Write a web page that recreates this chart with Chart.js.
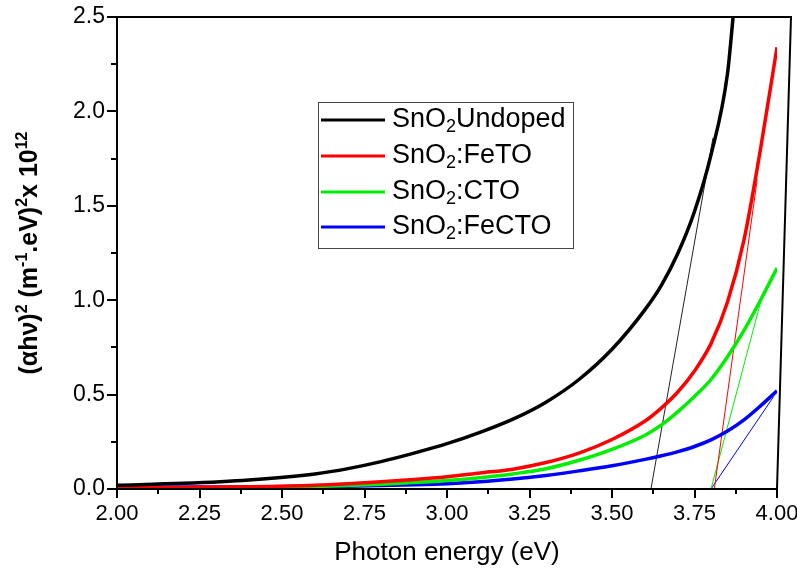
<!DOCTYPE html>
<html>
<head>
<meta charset="utf-8">
<script src="https://cdn.jsdelivr.net/npm/chart.js@4.4.1/dist/chart.umd.min.js"></script>
<style>
  html, body { margin: 0; padding: 0; background: #fff; }
  #wrap { width: 797px; height: 568px; position: relative; }
</style>
</head>
<body>
<div id="wrap"><canvas id="tauc"></canvas></div>
<script>
/* Tauc plot: (ahv)^2 vs photon energy for four SnO2 films, with band-gap tangent lines. */
var energy = [2.0, 2.2, 2.4, 2.6, 2.7, 2.8, 2.9, 3.0, 3.1, 3.2, 3.3, 3.4, 3.5, 3.6, 3.65, 3.7, 3.75, 3.8, 3.85, 3.9, 3.95, 4.0];
var energyUndoped = [2.0, 2.2, 2.4, 2.6, 2.7, 2.8, 2.9, 3.0, 3.1, 3.2, 3.3, 3.4, 3.5, 3.6, 3.65, 3.7, 3.75, 3.8, 3.85, 3.867];

var undoped = [0.02, 0.03, 0.048, 0.08, 0.108, 0.145, 0.19, 0.24, 0.3, 0.37, 0.46, 0.58, 0.74, 0.95, 1.08, 1.25, 1.47, 1.77, 2.2, 2.5];
var feTO = [0.005, 0.008, 0.012, 0.02, 0.028, 0.038, 0.05, 0.065, 0.085, 0.105, 0.14, 0.19, 0.262, 0.36, 0.43, 0.515, 0.625, 0.77, 0.99, 1.32, 1.8, 2.34];
var cTO = [0.003, 0.005, 0.008, 0.013, 0.018, 0.025, 0.034, 0.045, 0.06, 0.08, 0.107, 0.152, 0.21, 0.285, 0.34, 0.41, 0.49, 0.58, 0.7, 0.84, 1.0, 1.17];
var feCTO = [0.008, 0.01, 0.011, 0.013, 0.015, 0.018, 0.022, 0.028, 0.038, 0.053, 0.072, 0.096, 0.123, 0.157, 0.176, 0.198, 0.225, 0.26, 0.307, 0.366, 0.44, 0.52];

// tangent (band-gap) fits: [x0, x1], [y0, y1]
var fitUndopedX = [3.618, 3.806], fitUndopedY = [0, 1.86];
var fitFeTOX = [3.81, 3.94], fitFeTOY = [0, 1.64];
var fitCTOX = [3.80, 3.958], fitCTOY = [0, 1.04];
var fitFeCTOX = [3.80, 3.99], fitFeCTOY = [0, 0.49];

var seriesNames = ["Undoped", ":FeTO", ":CTO", ":FeCTO"];
var seriesColors = ["#000000", "#ff0000", "#00ee00", "#0000ff"];

var xTicksMin = 2.0, xTicksMax = 4.0, xStep = 0.25;
var yTicksMin = 0, yTicksMax = 2.5, yStep = 0.5;

function pts(xs, ys) {
  return ys.map(function (v, i) { return { x: xs[i], y: v }; });
}

var FONT = "'Liberation Sans', Arial, sans-serif";

function curve(xs, ys, color) {
  return {
    data: pts(xs, ys),
    borderColor: color,
    borderWidth: 3.5,
    pointRadius: 0,
    fill: false,
    cubicInterpolationMode: "monotone",
  };
}

function fitLine(xs, ys, color) {
  return {
    data: pts(xs, ys),
    borderColor: color,
    borderWidth: 1,
    pointRadius: 0,
    fill: false,
  };
}

var framePlugin = {
  id: "taucFrame",
  afterDraw: function (chart) {
    var ctx = chart.ctx;
    var a = chart.chartArea;
    var xs = chart.scales.x, ys = chart.scales.y;
    ctx.save();
    ctx.strokeStyle = "#000";
    ctx.lineWidth = 2;
    ctx.lineCap = "square";
    ctx.beginPath();
    ctx.moveTo(a.left, a.top);
    ctx.lineTo(a.left, a.bottom);
    ctx.lineTo(a.right, a.bottom);
    ctx.moveTo(a.left, a.top);
    ctx.lineTo(a.right + 14, a.top);
    ctx.lineTo(a.right, a.bottom);
    ctx.stroke();

    // tick marks, outward, majors + minors
    ctx.lineWidth = 2;
    ctx.beginPath();
    var v, px, i;
    for (i = 0; i <= Math.round((xTicksMax - xTicksMin) / (xStep / 2)); i++) {
      v = xTicksMin + i * xStep / 2;
      px = Math.round(xs.getPixelForValue(v));
      ctx.moveTo(px, a.bottom);
      ctx.lineTo(px, a.bottom + (i % 2 === 0 ? 8 : 4));
    }
    for (i = 0; i <= Math.round((yTicksMax - yTicksMin) / (yStep / 2)); i++) {
      v = yTicksMin + i * yStep / 2;
      px = Math.round(ys.getPixelForValue(v));
      ctx.moveTo(a.left, px);
      ctx.lineTo(a.left - (i % 2 === 0 ? 9 : 5), px);
    }
    ctx.stroke();

    // x title
    ctx.fillStyle = "#000";
    ctx.font = "26px " + FONT;
    ctx.textAlign = "center";
    ctx.textBaseline = "middle";
    ctx.fillText("Photon energy (eV)", (a.left + a.right) / 2, 553);

    // y title with superscripts
    var size = 25;
    var parts = [
      ["(\u03b1h\u03bd)", 0], ["2", 1], [" (m", 0], ["-1", 1], [".eV)", 0], ["2", 1], ["x 10", 0], ["12", 1],
    ];
    function fontFor(sup) {
      return "bold " + (sup ? Math.round(size * 0.62) : size) + "px " + FONT;
    }
    var total = 0;
    parts.forEach(function (p) {
      ctx.font = fontFor(p[1]);
      total += ctx.measureText(p[0]).width;
    });
    ctx.translate(37, 253);
    ctx.rotate(-Math.PI / 2);
    ctx.textAlign = "left";
    ctx.textBaseline = "alphabetic";
    var cx = -total / 2;
    parts.forEach(function (p) {
      ctx.font = fontFor(p[1]);
      ctx.fillText(p[0], cx, p[1] ? -size * 0.42 : 0);
      cx += ctx.measureText(p[0]).width;
    });
    ctx.restore();

    // legend box
    ctx.save();
    ctx.strokeStyle = "#444";
    ctx.lineWidth = 1;
    ctx.strokeRect(318.5, 102.5, 255, 146);
    var rows = [120, 156, 192, 227];
    seriesNames.forEach(function (name, k) {
      var y = rows[k];
      ctx.strokeStyle = seriesColors[k];
      ctx.lineWidth = 3;
      ctx.beginPath();
      ctx.moveTo(321, y);
      ctx.lineTo(385, y);
      ctx.stroke();
      ctx.fillStyle = "#000";
      ctx.textAlign = "left";
      ctx.textBaseline = "middle";
      var tx = 392;
      ctx.font = "27px " + FONT;
      ctx.fillText("SnO", tx, y);
      tx += ctx.measureText("SnO").width;
      ctx.font = "18px " + FONT;
      ctx.fillText("2", tx, y + 7);
      tx += ctx.measureText("2").width;
      ctx.font = "27px " + FONT;
      ctx.fillText(name, tx, y);
    });
    ctx.restore();
  },
};

new Chart(document.getElementById("tauc"), {
  type: "line",
  plugins: [framePlugin],
  data: {
    datasets: [
      curve(energyUndoped, undoped, seriesColors[0]),
      curve(energy, feTO, seriesColors[1]),
      curve(energy, cTO, seriesColors[2]),
      curve(energy, feCTO, seriesColors[3]),
      fitLine(fitUndopedX, fitUndopedY, "#222222"),
      fitLine(fitFeTOX, fitFeTOY, "#ff0000"),
      fitLine(fitCTOX, fitCTOY, "#00ee00"),
      fitLine(fitFeCTOX, fitFeCTOY, "#0000ff"),
    ],
  },
  options: {
    responsive: true,
    maintainAspectRatio: false,
    animation: false,
    layout: { padding: { top: 17, right: 20, left: 0, bottom: 0 } },
    plugins: { legend: { display: false }, tooltip: { enabled: false } },
    scales: {
      x: {
        type: "linear",
        min: xTicksMin,
        max: xTicksMax,
        grid: { display: false, drawTicks: false },
        border: { display: false },
        ticks: {
          stepSize: xStep,
          padding: 12,
          color: "#000",
          font: { family: FONT, size: 22 },
          callback: function (v) { return Number(v).toFixed(2); },
          maxRotation: 0,
        },
        afterFit: function (s) {
          s.height = 79;
          s.paddingLeft = 0;
          s.paddingRight = 0;
        },
      },
      y: {
        min: yTicksMin,
        max: yTicksMax,
        grid: { display: false, drawTicks: false },
        border: { display: false },
        ticks: {
          stepSize: yStep,
          padding: 12,
          color: "#000",
          font: { family: FONT, size: 23 },
          callback: function (v) { return Number(v).toFixed(1); },
        },
        afterFit: function (s) {
          s.width = 117;
          s.paddingTop = 0;
          s.paddingBottom = 0;
        },
      },
    },
  },
});
</script>
</body>
</html>
